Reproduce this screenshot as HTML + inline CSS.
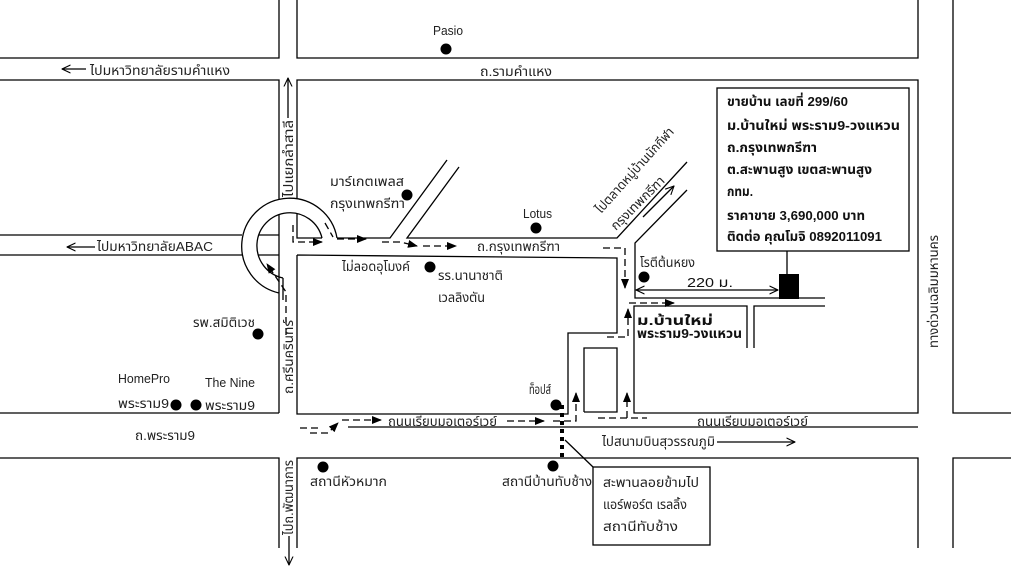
<!DOCTYPE html>
<html>
<head>
<meta charset="utf-8">
<style>
  html,body{margin:0;padding:0;background:#fff;}
  svg{display:block;}
  text{font-family:"Liberation Sans",Tahoma,"Noto Sans Thai",Loma,Garuda,"DejaVu Sans","Noto Sans CJK SC",sans-serif;font-size:13px;fill:#222;}
  .b{font-weight:bold;fill:#111;}
  .ln{fill:none;stroke:#000;stroke-width:1.3;}
  .ds{fill:none;stroke:#000;stroke-width:1.3;stroke-dasharray:7 4;}
</style>
</head>
<body>
<svg width="1011" height="575" viewBox="0 0 1011 575" xmlns="http://www.w3.org/2000/svg">
  <defs>
    <marker id="t" viewBox="0 0 10 8" refX="9" refY="4" markerWidth="10" markerHeight="8" markerUnits="userSpaceOnUse" orient="auto">
      <path d="M0,0L10,4L0,8z" fill="#000"/>
    </marker>
    <marker id="c" viewBox="0 0 10 10" refX="9.5" refY="5" markerWidth="9" markerHeight="9" markerUnits="userSpaceOnUse" orient="auto-start-reverse">
      <path d="M0,0.5L9.5,5L0,9.5" fill="none" stroke="#000" stroke-width="1.2"/>
    </marker>
  </defs>
  <rect x="0" y="0" width="1011" height="575" fill="#fff"/>

  <!-- Roads / blocks -->
  <path class="ln" d="
    M0,58H279V0 M297,0V58H918V0 M953,0V413H1011
    M0,80H279V199 M0,235H242 M0,255H242 M259,235H279 M258,255H279
    M279,215V413 M283,278V300 M297,214V238H322
    M297,199V80H918V413H634V306H747V348 M754,348V306H825 M825,298H635V243L687,190
    M337,238H390L447,160 M459,167L407,238H617L687,162
    M297,255L617,258V333H568V414H297V255
    M584,412V348H617V412H584
    M0,413H279 M348,427H918
    M0,458H279V548 M297,548V458H918V548 M953,548V458H1011
    M279,293A48,48 0 1 1 337,238
    M283,278A33,33 0 1 1 322,238
  "/>

  <!-- dashed route -->
  <path class="ds" d="M286,335V292L267,264" marker-end="url(#t)"/>
  <path class="ds" d="M325,223L333,237"/>
  <path class="ds" d="M337,239H366" marker-end="url(#t)"/>
  <path class="ds" d="M293,225V242H322" marker-end="url(#t)"/>
  <path class="ds" d="M382,242H400L417,246" marker-end="url(#t)"/>
  <path class="ds" d="M423,246H456" marker-end="url(#t)"/>
  <path class="ds" d="M603,248H625V288" marker-end="url(#t)"/>
  <path class="ds" d="M607,337H628V309" marker-end="url(#t)"/>
  <path class="ds" d="M629,303H674" marker-end="url(#t)"/>
  <path class="ds" d="M300,428H322"/>
  <path class="ds" d="M310,433H328L338,423" marker-end="url(#t)"/>
  <path class="ds" d="M342,420H381" marker-end="url(#t)"/>
  <path class="ds" d="M507,421H544" marker-end="url(#t)"/>
  <path class="ds" d="M553,421H576V393" marker-end="url(#t)"/>
  <path class="ds" d="M598,418H647"/>
  <path class="ds" d="M627,418V393" marker-end="url(#t)"/>

  <!-- dotted skywalk -->
  <path d="M562,405V461" fill="none" stroke="#000" stroke-width="4" stroke-dasharray="4 4"/>
  <path class="ln" d="M565,440L593,467" stroke-width="1"/>

  <!-- label arrows -->
  <path class="ln" d="M86,69H62" marker-end="url(#c)"/>
  <path class="ln" d="M95,247H67" marker-end="url(#c)"/>
  <path class="ln" d="M288,118V78" marker-end="url(#c)"/>
  <path class="ln" d="M289,536V565" marker-end="url(#c)"/>
  <path class="ln" d="M643,217L674,186" marker-end="url(#c)"/>
  <path class="ln" d="M636,290H778" marker-start="url(#c)" marker-end="url(#c)"/>
  <path class="ln" d="M717,442H795" marker-end="url(#c)"/>

  <!-- info box -->
  <rect x="717" y="88" width="192" height="163" fill="#fff" stroke="#000" stroke-width="1.3"/>
  <path class="ln" d="M787,251V274"/>
  <rect x="779" y="274" width="20" height="25" fill="#000"/>

  <!-- callout box -->
  <rect x="593" y="467" width="117" height="78" fill="#fff" stroke="#000" stroke-width="1.3"/>

  <!-- dots -->
  <g fill="#000">
    <circle cx="446" cy="49" r="5.5"/>
    <circle cx="407" cy="195" r="5.5"/>
    <circle cx="430" cy="267" r="5.5"/>
    <circle cx="536" cy="228" r="5.5"/>
    <circle cx="644" cy="277" r="5.5"/>
    <circle cx="258" cy="334" r="5.5"/>
    <circle cx="176" cy="405" r="5.5"/>
    <circle cx="196" cy="405" r="5.5"/>
    <circle cx="556" cy="405" r="5.5"/>
    <circle cx="323" cy="467" r="5.5"/>
    <circle cx="553" cy="466" r="5.5"/>
  </g>

  <!-- texts -->
  <text x="90" y="75" textLength="140" lengthAdjust="spacingAndGlyphs">ไปมหาวิทยาลัยรามคำแหง</text>
  <text x="433" y="35" font-size="12" textLength="30" lengthAdjust="spacingAndGlyphs">Pasio</text>
  <text x="480" y="76" textLength="72" lengthAdjust="spacingAndGlyphs">ถ.รามคำแหง</text>
  <text transform="translate(293,197) rotate(-90)" textLength="77" lengthAdjust="spacingAndGlyphs">ไปแยกลำสาลี</text>
  <text x="330" y="186" textLength="74" lengthAdjust="spacingAndGlyphs">มาร์เกตเพลส</text>
  <text x="330" y="208" textLength="75" lengthAdjust="spacingAndGlyphs">กรุงเทพกรีฑา</text>
  <text x="97" y="251" textLength="116" lengthAdjust="spacingAndGlyphs">ไปมหาวิทยาลัยABAC</text>
  <text x="342" y="271" textLength="68" lengthAdjust="spacingAndGlyphs">ไม่ลอดอุโมงค์</text>
  <text x="438" y="280" textLength="65" lengthAdjust="spacingAndGlyphs">รร.นานาชาติ</text>
  <text x="438" y="302" textLength="47" lengthAdjust="spacingAndGlyphs">เวลลิงตัน</text>
  <text x="523" y="218" font-size="12" textLength="29" lengthAdjust="spacingAndGlyphs">Lotus</text>
  <text x="477" y="251" textLength="83" lengthAdjust="spacingAndGlyphs">ถ.กรุงเทพกรีฑา</text>
  <text transform="translate(601,214) rotate(-48)" textLength="110" lengthAdjust="spacingAndGlyphs">ไปตลาดหมู่บ้านนักกีฬา</text>
  <text transform="translate(616,231) rotate(-45)" textLength="70" lengthAdjust="spacingAndGlyphs">กรุงเทพกรีฑา</text>
  <text x="640" y="267" textLength="55" lengthAdjust="spacingAndGlyphs">โรตีต้นหยง</text>
  <text x="687" y="287" font-size="15" textLength="46" lengthAdjust="spacingAndGlyphs" style="fill:#111">220 ม.</text>
  <text class="b" x="637" y="325" font-size="19" textLength="76" lengthAdjust="spacingAndGlyphs">ม.บ้านใหม่</text>
  <text class="b" x="637" y="338" font-size="12" textLength="105" lengthAdjust="spacingAndGlyphs">พระราม9-วงแหวน</text>
  <text x="529" y="394" textLength="22" lengthAdjust="spacingAndGlyphs">ท็อปส์</text>
  <text x="388" y="426" textLength="109" lengthAdjust="spacingAndGlyphs">ถนนเรียบมอเตอร์เวย์</text>
  <text x="697" y="426" textLength="111" lengthAdjust="spacingAndGlyphs">ถนนเรียบมอเตอร์เวย์</text>
  <text x="602" y="446" textLength="113" lengthAdjust="spacingAndGlyphs">ไปสนามบินสุวรรณภูมิ</text>
  <text x="310" y="486" textLength="77" lengthAdjust="spacingAndGlyphs">สถานีหัวหมาก</text>
  <text x="502" y="486" textLength="90" lengthAdjust="spacingAndGlyphs">สถานีบ้านทับช้าง</text>
  <text x="603" y="487" textLength="96" lengthAdjust="spacingAndGlyphs">สะพานลอยข้ามไป</text>
  <text x="603" y="509" textLength="84" lengthAdjust="spacingAndGlyphs">แอร์พอร์ต เรลลิ้ง</text>
  <text x="603" y="531" textLength="75" lengthAdjust="spacingAndGlyphs">สถานีทับช้าง</text>
  <text transform="translate(293,535) rotate(-90)" textLength="75" lengthAdjust="spacingAndGlyphs">ไปถ.พัฒนาการ</text>
  <text transform="translate(293,394) rotate(-90)" textLength="74" lengthAdjust="spacingAndGlyphs">ถ.ศรีนครินทร์</text>
  <text x="193" y="327" textLength="62" lengthAdjust="spacingAndGlyphs">รพ.สมิติเวช</text>
  <text x="118" y="383" textLength="52" lengthAdjust="spacingAndGlyphs">HomePro</text>
  <text x="118" y="408" textLength="51" lengthAdjust="spacingAndGlyphs">พระราม9</text>
  <text x="205" y="387" textLength="50" lengthAdjust="spacingAndGlyphs">The Nine</text>
  <text x="205" y="410" textLength="50" lengthAdjust="spacingAndGlyphs">พระราม9</text>
  <text x="135" y="440" textLength="60" lengthAdjust="spacingAndGlyphs">ถ.พระราม9</text>
  <text transform="translate(938,348) rotate(-90)" font-size="12" textLength="113" lengthAdjust="spacingAndGlyphs">ทางด่วนเฉลิมมหานคร</text>

  <!-- info box text -->
  <text class="b" x="727" y="106" textLength="121" lengthAdjust="spacingAndGlyphs">ขายบ้าน เลขที่ 299/60</text>
  <text class="b" x="727" y="130" textLength="173" lengthAdjust="spacingAndGlyphs">ม.บ้านใหม่ พระราม9-วงแหวน</text>
  <text class="b" x="727" y="152" textLength="90" lengthAdjust="spacingAndGlyphs">ถ.กรุงเทพกรีฑา</text>
  <text class="b" x="727" y="174" textLength="145" lengthAdjust="spacingAndGlyphs">ต.สะพานสูง เขตสะพานสูง</text>
  <text class="b" x="727" y="196" textLength="26" lengthAdjust="spacingAndGlyphs">กทม.</text>
  <text class="b" x="727" y="220" textLength="138" lengthAdjust="spacingAndGlyphs">ราคาขาย 3,690,000 บาท</text>
  <text class="b" x="727" y="241" textLength="155" lengthAdjust="spacingAndGlyphs">ติดต่อ คุณโมจิ 0892011091</text>
</svg>
</body>
</html>
